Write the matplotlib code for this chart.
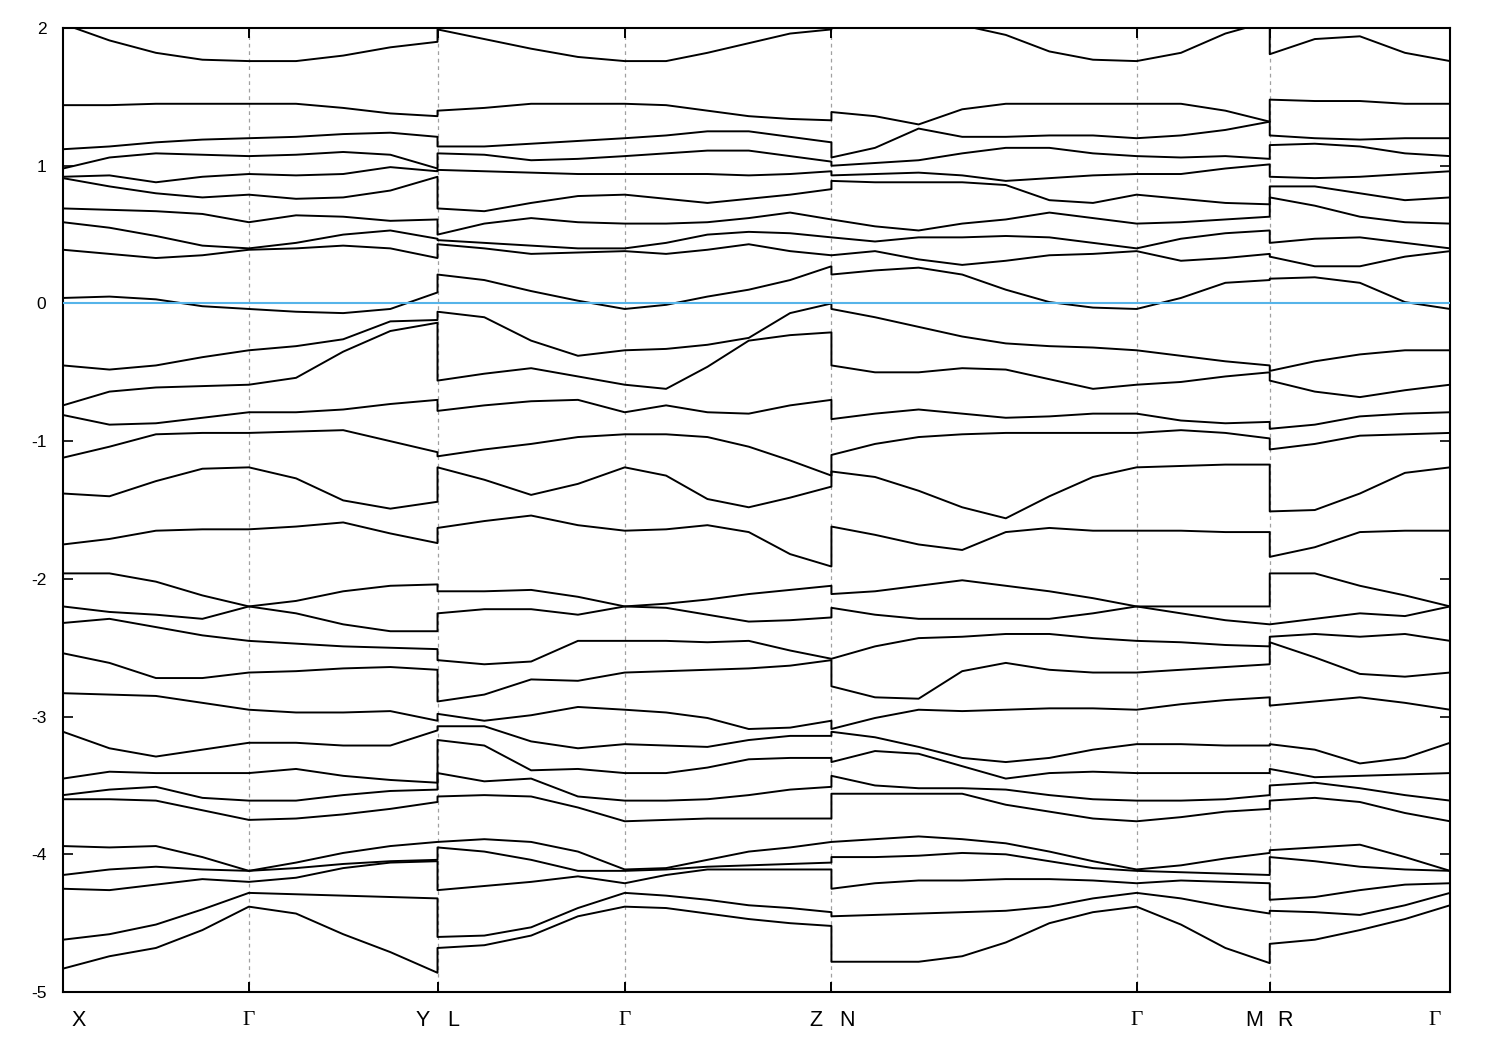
import numpy as np
import matplotlib
matplotlib.use("Agg")
import matplotlib.pyplot as plt
from matplotlib.transforms import offset_copy

# high symmetry points along the path (path length scaled to 1)
node_k = [0.0, 0.134, 0.270, 0.405, 0.554, 0.774, 0.870, 1.0]
node_labels = [['X'], ['Γ'], ['Y', 'L'], ['Γ'], ['Z', 'N'], ['Γ'], ['M', 'R'], ['Γ']]
yticks = [-5, -4, -3, -2, -1, 0, 1, 2]

# bands (top to bottom), energies in eV read at the sampled k points of each segment
seg_XGY = [
    [2.03, 1.91, 1.82, 1.77, 1.76, 1.76, 1.80, 1.86, 1.90],
    [1.44, 1.44, 1.45, 1.45, 1.45, 1.45, 1.42, 1.38, 1.36],
    [1.12, 1.14, 1.17, 1.19, 1.20, 1.21, 1.23, 1.24, 1.21],
    [0.98, 1.06, 1.09, 1.08, 1.07, 1.08, 1.10, 1.08, 0.98],
    [0.92, 0.93, 0.88, 0.92, 0.94, 0.93, 0.94, 0.99, 0.96],
    [0.91, 0.85, 0.80, 0.77, 0.79, 0.76, 0.77, 0.82, 0.92],
    [0.69, 0.68, 0.67, 0.65, 0.59, 0.64, 0.63, 0.60, 0.61],
    [0.59, 0.55, 0.49, 0.42, 0.40, 0.44, 0.50, 0.53, 0.47],
    [0.39, 0.36, 0.33, 0.35, 0.39, 0.40, 0.42, 0.40, 0.33],
    [0.04, 0.05, 0.03, -0.02, -0.04, -0.06, -0.07, -0.04, 0.08],
    [-0.45, -0.48, -0.45, -0.39, -0.34, -0.31, -0.26, -0.13, -0.12],
    [-0.74, -0.64, -0.61, -0.60, -0.59, -0.54, -0.35, -0.20, -0.14],
    [-0.81, -0.88, -0.87, -0.83, -0.79, -0.79, -0.77, -0.73, -0.70],
    [-1.12, -1.04, -0.95, -0.94, -0.94, -0.93, -0.92, -1.00, -1.08],
    [-1.38, -1.40, -1.29, -1.20, -1.19, -1.27, -1.43, -1.49, -1.44],
    [-1.75, -1.71, -1.65, -1.64, -1.64, -1.62, -1.59, -1.67, -1.74],
    [-1.96, -1.96, -2.02, -2.12, -2.20, -2.16, -2.09, -2.05, -2.04],
    [-2.20, -2.24, -2.26, -2.29, -2.20, -2.25, -2.33, -2.38, -2.38],
    [-2.32, -2.29, -2.35, -2.41, -2.45, -2.47, -2.49, -2.50, -2.51],
    [-2.54, -2.61, -2.72, -2.72, -2.68, -2.67, -2.65, -2.64, -2.66],
    [-2.83, -2.84, -2.85, -2.90, -2.95, -2.97, -2.97, -2.96, -3.03],
    [-3.11, -3.23, -3.29, -3.24, -3.19, -3.19, -3.21, -3.21, -3.10],
    [-3.45, -3.40, -3.41, -3.41, -3.41, -3.38, -3.43, -3.46, -3.48],
    [-3.57, -3.53, -3.51, -3.59, -3.61, -3.61, -3.57, -3.54, -3.53],
    [-3.60, -3.60, -3.61, -3.68, -3.75, -3.74, -3.71, -3.67, -3.62],
    [-3.94, -3.95, -3.94, -4.02, -4.12, -4.06, -3.99, -3.94, -3.91],
    [-4.15, -4.11, -4.09, -4.11, -4.12, -4.10, -4.07, -4.05, -4.04],
    [-4.25, -4.26, -4.22, -4.18, -4.20, -4.17, -4.10, -4.06, -4.05],
    [-4.62, -4.58, -4.51, -4.40, -4.28, -4.29, -4.30, -4.31, -4.32],
    [-4.83, -4.74, -4.68, -4.55, -4.38, -4.43, -4.58, -4.71, -4.86],
]

seg_LGZ = [
    [1.99, 1.92, 1.85, 1.79, 1.76, 1.76, 1.82, 1.89, 1.96, 1.99],
    [1.40, 1.42, 1.45, 1.45, 1.45, 1.44, 1.40, 1.36, 1.34, 1.33],
    [1.14, 1.14, 1.16, 1.18, 1.20, 1.22, 1.25, 1.25, 1.21, 1.17],
    [1.09, 1.08, 1.04, 1.05, 1.07, 1.09, 1.11, 1.11, 1.07, 1.03],
    [0.97, 0.96, 0.95, 0.94, 0.94, 0.94, 0.94, 0.93, 0.94, 0.96],
    [0.69, 0.67, 0.73, 0.78, 0.79, 0.76, 0.73, 0.76, 0.79, 0.83],
    [0.50, 0.58, 0.62, 0.59, 0.58, 0.58, 0.59, 0.62, 0.66, 0.61],
    [0.46, 0.44, 0.42, 0.40, 0.40, 0.44, 0.50, 0.52, 0.51, 0.48],
    [0.43, 0.40, 0.36, 0.37, 0.38, 0.36, 0.39, 0.43, 0.38, 0.35],
    [0.21, 0.17, 0.09, 0.02, -0.04, -0.01, 0.05, 0.10, 0.17, 0.27],
    [-0.06, -0.10, -0.27, -0.38, -0.34, -0.33, -0.30, -0.25, -0.07, 0.00],
    [-0.56, -0.51, -0.47, -0.53, -0.59, -0.62, -0.46, -0.27, -0.23, -0.21],
    [-0.78, -0.74, -0.71, -0.70, -0.79, -0.74, -0.79, -0.80, -0.74, -0.70],
    [-1.11, -1.06, -1.02, -0.97, -0.95, -0.95, -0.97, -1.04, -1.14, -1.25],
    [-1.19, -1.28, -1.39, -1.31, -1.19, -1.25, -1.42, -1.48, -1.41, -1.33],
    [-1.63, -1.58, -1.54, -1.61, -1.65, -1.64, -1.61, -1.66, -1.82, -1.91],
    [-2.09, -2.09, -2.08, -2.13, -2.20, -2.18, -2.15, -2.11, -2.08, -2.05],
    [-2.25, -2.22, -2.22, -2.26, -2.20, -2.21, -2.26, -2.31, -2.30, -2.28],
    [-2.59, -2.62, -2.60, -2.45, -2.45, -2.45, -2.46, -2.45, -2.52, -2.58],
    [-2.89, -2.84, -2.73, -2.74, -2.68, -2.67, -2.66, -2.65, -2.63, -2.59],
    [-2.98, -3.03, -2.99, -2.93, -2.95, -2.97, -3.01, -3.09, -3.08, -3.03],
    [-3.07, -3.07, -3.18, -3.23, -3.20, -3.21, -3.22, -3.17, -3.14, -3.14],
    [-3.17, -3.21, -3.39, -3.38, -3.41, -3.41, -3.37, -3.31, -3.30, -3.30],
    [-3.41, -3.47, -3.45, -3.58, -3.61, -3.61, -3.60, -3.57, -3.53, -3.51],
    [-3.58, -3.57, -3.58, -3.66, -3.76, -3.75, -3.74, -3.74, -3.74, -3.74],
    [-3.91, -3.89, -3.91, -3.98, -4.11, -4.10, -4.04, -3.98, -3.95, -3.91],
    [-3.95, -3.98, -4.04, -4.12, -4.12, -4.11, -4.09, -4.08, -4.07, -4.06],
    [-4.26, -4.23, -4.20, -4.16, -4.21, -4.15, -4.11, -4.11, -4.11, -4.11],
    [-4.60, -4.59, -4.53, -4.39, -4.28, -4.30, -4.33, -4.37, -4.39, -4.42],
    [-4.68, -4.66, -4.59, -4.45, -4.38, -4.39, -4.43, -4.47, -4.50, -4.52],
]

seg_NGM = [
    [2.05, 2.05, 2.05, 2.02, 1.95, 1.83, 1.77, 1.76, 1.82, 1.96, 2.05],
    [1.39, 1.36, 1.30, 1.41, 1.45, 1.45, 1.45, 1.45, 1.45, 1.40, 1.32],
    [1.06, 1.13, 1.27, 1.21, 1.21, 1.22, 1.22, 1.20, 1.22, 1.26, 1.32],
    [1.00, 1.02, 1.04, 1.09, 1.13, 1.13, 1.09, 1.07, 1.06, 1.07, 1.05],
    [0.93, 0.94, 0.95, 0.93, 0.89, 0.91, 0.93, 0.94, 0.94, 0.98, 1.01],
    [0.89, 0.88, 0.88, 0.88, 0.86, 0.75, 0.73, 0.79, 0.76, 0.73, 0.72],
    [0.61, 0.56, 0.53, 0.58, 0.61, 0.66, 0.62, 0.58, 0.59, 0.61, 0.63],
    [0.48, 0.45, 0.48, 0.48, 0.49, 0.48, 0.44, 0.40, 0.47, 0.51, 0.53],
    [0.35, 0.38, 0.32, 0.28, 0.31, 0.35, 0.36, 0.38, 0.31, 0.33, 0.36],
    [0.21, 0.24, 0.26, 0.21, 0.10, 0.01, -0.03, -0.04, 0.04, 0.15, 0.17],
    [-0.04, -0.10, -0.17, -0.24, -0.29, -0.31, -0.32, -0.34, -0.38, -0.42, -0.45],
    [-0.45, -0.50, -0.50, -0.47, -0.48, -0.55, -0.62, -0.59, -0.57, -0.53, -0.50],
    [-0.84, -0.80, -0.77, -0.80, -0.83, -0.82, -0.80, -0.80, -0.85, -0.87, -0.86],
    [-1.10, -1.02, -0.97, -0.95, -0.94, -0.94, -0.94, -0.94, -0.92, -0.94, -0.98],
    [-1.22, -1.26, -1.36, -1.48, -1.56, -1.40, -1.26, -1.19, -1.18, -1.17, -1.17],
    [-1.62, -1.68, -1.75, -1.79, -1.66, -1.63, -1.65, -1.65, -1.65, -1.66, -1.66],
    [-2.11, -2.09, -2.05, -2.01, -2.05, -2.09, -2.14, -2.20, -2.20, -2.20, -2.20],
    [-2.21, -2.26, -2.29, -2.29, -2.29, -2.29, -2.25, -2.20, -2.25, -2.30, -2.33],
    [-2.58, -2.49, -2.43, -2.42, -2.40, -2.40, -2.43, -2.45, -2.46, -2.48, -2.49],
    [-2.78, -2.86, -2.87, -2.67, -2.61, -2.66, -2.68, -2.68, -2.66, -2.64, -2.62],
    [-3.09, -3.01, -2.95, -2.96, -2.95, -2.94, -2.94, -2.95, -2.91, -2.88, -2.86],
    [-3.11, -3.15, -3.22, -3.30, -3.33, -3.30, -3.24, -3.20, -3.20, -3.21, -3.21],
    [-3.33, -3.25, -3.27, -3.36, -3.45, -3.41, -3.40, -3.41, -3.41, -3.41, -3.41],
    [-3.43, -3.50, -3.52, -3.52, -3.53, -3.57, -3.60, -3.61, -3.61, -3.60, -3.57],
    [-3.56, -3.56, -3.56, -3.56, -3.64, -3.69, -3.74, -3.76, -3.73, -3.69, -3.67],
    [-3.91, -3.89, -3.87, -3.89, -3.92, -3.98, -4.05, -4.11, -4.08, -4.03, -3.99],
    [-4.02, -4.02, -4.01, -3.99, -4.00, -4.05, -4.10, -4.12, -4.13, -4.14, -4.15],
    [-4.25, -4.21, -4.19, -4.19, -4.18, -4.18, -4.19, -4.21, -4.19, -4.20, -4.21],
    [-4.45, -4.44, -4.43, -4.42, -4.41, -4.38, -4.32, -4.28, -4.32, -4.38, -4.43],
    [-4.78, -4.78, -4.78, -4.74, -4.64, -4.50, -4.42, -4.38, -4.51, -4.68, -4.79],
]

seg_RG = [
    [1.81, 1.92, 1.94, 1.82, 1.76],
    [1.48, 1.47, 1.47, 1.45, 1.45],
    [1.22, 1.20, 1.19, 1.20, 1.20],
    [1.15, 1.16, 1.14, 1.09, 1.07],
    [0.92, 0.91, 0.92, 0.94, 0.96],
    [0.85, 0.85, 0.80, 0.75, 0.77],
    [0.77, 0.71, 0.63, 0.59, 0.58],
    [0.44, 0.47, 0.48, 0.44, 0.40],
    [0.34, 0.27, 0.27, 0.34, 0.38],
    [0.18, 0.19, 0.15, 0.01, -0.04],
    [-0.49, -0.42, -0.37, -0.34, -0.34],
    [-0.56, -0.64, -0.68, -0.63, -0.59],
    [-0.91, -0.88, -0.82, -0.80, -0.79],
    [-1.06, -1.02, -0.96, -0.95, -0.94],
    [-1.51, -1.50, -1.38, -1.23, -1.19],
    [-1.84, -1.77, -1.66, -1.65, -1.65],
    [-1.96, -1.96, -2.05, -2.12, -2.20],
    [-2.33, -2.29, -2.25, -2.27, -2.20],
    [-2.42, -2.40, -2.42, -2.40, -2.45],
    [-2.46, -2.57, -2.69, -2.71, -2.68],
    [-2.92, -2.89, -2.86, -2.90, -2.95],
    [-3.20, -3.24, -3.34, -3.30, -3.19],
    [-3.38, -3.44, -3.43, -3.42, -3.41],
    [-3.50, -3.48, -3.52, -3.57, -3.61],
    [-3.61, -3.59, -3.62, -3.70, -3.76],
    [-3.97, -3.95, -3.93, -4.02, -4.12],
    [-4.02, -4.05, -4.09, -4.11, -4.12],
    [-4.33, -4.31, -4.26, -4.22, -4.21],
    [-4.41, -4.42, -4.44, -4.37, -4.28],
    [-4.65, -4.62, -4.55, -4.47, -4.37],
]


def seg_k(a, b, n):
    return np.linspace(node_k[a], node_k[b], n)


# k sample points of each segment (X-G-Y, L-G-Z, N-G-M, R-G)
k1 = np.concatenate([seg_k(0, 1, 5), seg_k(1, 2, 5)[1:]])
k2 = np.concatenate([seg_k(2, 3, 5), seg_k(3, 4, 6)[1:]])
k3 = np.concatenate([seg_k(4, 5, 8), seg_k(5, 6, 4)[1:]])
k4 = seg_k(6, 7, 5)
k_all = np.concatenate([k1, k2, k3, k4])

plt.rcParams['font.family'] = ['Liberation Sans', 'DejaVu Sans']

fig = plt.figure(figsize=(15, 10.5), dpi=100)
ax = fig.add_axes([0.042, 0.0552, 0.9247, 0.9181])

for k in node_k[1:-1]:
    ax.axvline(k, color='#a0a0a0', lw=0.9, ls=(0, (3, 3)), zorder=1)

for i in range(len(seg_XGY)):
    e = np.concatenate([seg_XGY[i], seg_LGZ[i], seg_NGM[i], seg_RG[i]])
    ax.plot(k_all, e, color='black', lw=1.4, zorder=2)

ax.axhline(0, color='#56b4e9', lw=1.5, zorder=3)

ax.set_xlim(0, 1)
ax.set_ylim(-5, 2)
ax.set_yticks(yticks)
ax.set_yticklabels([str(v) for v in yticks])
ax.set_xticks(node_k[1:-1])
ax.set_xticklabels([])
ax.tick_params(axis='y', direction='in', length=7, width=1.2, labelsize=12.5,
               pad=12, left=True, right=True)
ax.tick_params(axis='x', direction='in', length=7, width=1.4, top=True, bottom=True)
for sp in ax.spines.values():
    sp.set_linewidth(1.5)

# k-point labels under the axis
for k, labs in zip(node_k, node_labels):
    if len(labs) == 2:
        shifts = [-11, 11]
    elif k == node_k[0]:
        shifts = [11]
    elif k == node_k[-1]:
        shifts = [-11]
    else:
        shifts = [0]
    for lab, dx in zip(labs, shifts):
        tr = offset_copy(ax.get_xaxis_transform(), fig=fig, x=dx, y=-20.5, units='points')
        fam = ['Liberation Serif', 'DejaVu Serif'] if lab == 'Γ' else ['Liberation Sans', 'DejaVu Sans']
        ax.text(k, 0, lab, transform=tr, ha='center', va='center', fontsize=15.5, family=fam)

fig.savefig('out.png', dpi=100)
